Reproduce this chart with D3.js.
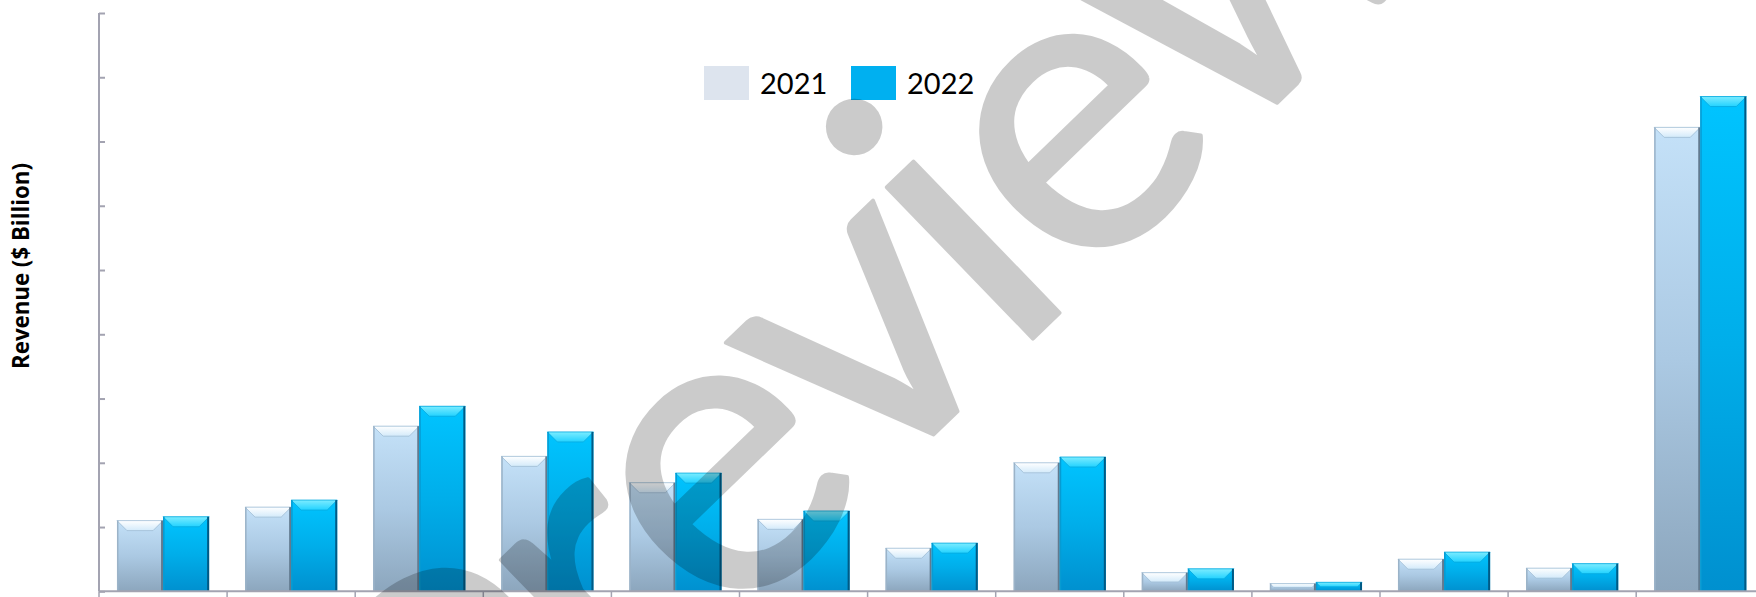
<!DOCTYPE html>
<html>
<head>
<meta charset="utf-8">
<script src="https://cdn.jsdelivr.net/npm/d3@7/dist/d3.min.js"></script>
<style>
  body { margin: 0; background: #fff; }
  svg { display: block; }
</style>
</head>
<body>
<svg id="chart"></svg>
<script>
// chart data (category names are cut off in the source, below the visible area)
const categories = ["C1", "C2", "C3", "C4", "C5", "C6", "C7", "C8", "C9", "C10", "C11", "C12", "C13"];
const years = ["2021", "2022"];
const values2021 = [1.10, 1.31, 2.57, 2.10, 1.69, 1.12, 0.67, 2.00, 0.29, 0.12, 0.50, 0.36, 7.22];
const values2022 = [1.16, 1.42, 2.88, 2.48, 1.84, 1.25, 0.75, 2.09, 0.35, 0.14, 0.61, 0.43, 7.70];
const yTicks = [0, 1, 2, 3, 4, 5, 6, 7, 8, 9];
const yTitle = "Revenue ($ Billion)";
const watermark = "Preview";

var width = 1756;
var height = 597;
var margin = {top: 13, right: 0, bottom: 5, left: 99};
var plotW = 13 * 128.1;
var plotH = height - margin.top - margin.bottom - 0.7;

const svg = d3.select("#chart")
    .attr("width", width)
    .attr("height", height);

const defs = svg.append("defs");

// gradients for the bevelled bars
function vGrad(id, stops) {
    const g = defs.append("linearGradient")
        .attr("id", id)
        .attr("x1", 0).attr("y1", 0).attr("x2", 0).attr("y2", 1);
    stops.forEach(s => g.append("stop").attr("offset", s[0]).attr("stop-color", s[1]));
}
vGrad("body2021", [[0, "#c4e1f8"], [0.5, "#abc9e3"], [1, "#8ca6bd"]]);
vGrad("body2022", [[0, "#00c4ff"], [0.5, "#00aeea"], [1, "#0090cf"]]);
vGrad("top2021", [[0, "#ffffff"], [1, "#d3eafa"]]);
vGrad("top2022", [[0, "#7cecff"], [1, "#22d2ff"]]);

const style = {
    "2021": {body: "url(#body2021)", top: "url(#top2021)", left: "#9bb3c8", right: "#627a8f", rim: "#9fbcd4"},
    "2022": {body: "url(#body2022)", top: "url(#top2022)", left: "#079bd2", right: "#005a85", rim: "#06a9de"}
};

const g = svg.append("g")
    .attr("transform", "translate(" + margin.left + "," + margin.top + ")");

// scales
const x = d3.scaleBand()
    .domain(categories)
    .range([0, plotW])
    .padding(0);

const xInner = d3.scaleBand()
    .domain(years)
    .range([0, x.bandwidth()])
    .paddingInner(0)
    .paddingOuter(0.39);

const y = d3.scaleLinear()
    .domain([0, 9])
    .range([plotH, 0]);

// bars
const rows = categories.map((c, i) => ({cat: c, vals: [
    {year: "2021", v: values2021[i]},
    {year: "2022", v: values2022[i]}
]}));

const groups = g.selectAll(".cat")
    .data(rows)
    .join("g")
    .attr("class", "cat")
    .attr("transform", d => "translate(" + x(d.cat) + ",0)");

groups.selectAll(".bar")
    .data(d => d.vals)
    .join("g")
    .attr("class", "bar")
    .each(function(d) {
        const bx = xInner(d.year);
        const bw = xInner.bandwidth();
        const by = y(d.v);
        const bh = y(0) - y(d.v);
        const b = Math.min(10, bh / 2, bw / 2);
        const s = style[d.year];
        const el = d3.select(this);
        el.append("rect")
            .attr("x", bx).attr("y", by)
            .attr("width", bw).attr("height", bh)
            .attr("fill", s.body);
        // top face of the bevel
        el.append("path")
            .attr("d", `M${bx},${by} L${bx + bw},${by} L${bx + bw - b},${by + b} L${bx + b},${by + b} Z`)
            .attr("fill", s.top)
            .attr("stroke", s.rim).attr("stroke-width", 0.8);
        // edges
        el.append("rect")
            .attr("x", bx).attr("y", by)
            .attr("width", 1.5).attr("height", bh)
            .attr("fill", s.left);
        el.append("rect")
            .attr("x", bx + bw - 2).attr("y", by)
            .attr("width", 2).attr("height", bh)
            .attr("fill", s.right);
    });

// axes
const axisColor = "#a3a3b1";

const yAxis = g.append("g")
    .call(d3.axisLeft(y).tickValues(yTicks).tickSize(-6).tickFormat(""));
yAxis.select(".domain").remove();
yAxis.append("line")
    .attr("x1", 0).attr("x2", 0)
    .attr("y1", 0).attr("y2", plotH)
    .attr("stroke", axisColor).attr("stroke-width", 2);
yAxis.selectAll(".tick line").attr("stroke", axisColor).attr("stroke-width", 2);

const xAxis = g.append("g")
    .attr("transform", "translate(0," + plotH + ")")
    .call(d3.axisBottom(x).tickSize(0).tickFormat(""));
xAxis.select(".domain").remove();
xAxis.append("line")
    .attr("x1", 0).attr("x2", plotW)
    .attr("stroke", axisColor).attr("stroke-width", 2);
xAxis.selectAll(".div")
    .data(categories)
    .join("line")
    .attr("x1", d => x(d)).attr("x2", d => x(d))
    .attr("y1", 0).attr("y2", 7)
    .attr("stroke", axisColor).attr("stroke-width", 1.5);

// y axis title, sized to the span it has in the source
const title = svg.append("text")
    .attr("transform", "translate(29,266) rotate(-90)")
    .attr("text-anchor", "middle")
    .style("font-family", "'Open Sans', Lato, sans-serif")
    .style("font-size", "20px")
    .style("font-weight", 700)
    .attr("fill", "#000")
    .text(yTitle);
const tl = title.node().getComputedTextLength();
title.style("font-size", (20 * 206 / tl) + "px");

// legend
const legend = svg.append("g")
    .attr("transform", "translate(704,66)");
const legendColors = {"2021": "#dde4ee", "2022": "#00b0f0"};
years.forEach((yr, i) => {
    const item = legend.append("g").attr("transform", "translate(" + (i * 147) + ",0)");
    item.append("rect")
        .attr("width", 45).attr("height", 34)
        .attr("fill", legendColors[yr]);
    item.append("text")
        .attr("x", 56).attr("y", 28)
        .style("font-family", "Lato, 'Open Sans', sans-serif")
        .style("font-size", "29px")
        .attr("fill", "#000")
        .text(yr);
});

// watermark on top: letter centres along the baseline, measured from the first "e"
const wmCentres = [-350, -172, 0, 201, 341, 493, 750];
const wmDrop = [28, 0, 0, 0, 0, 0, 0];
const wm = svg.append("text")
    .style("font-family", "Lato, 'Open Sans', sans-serif")
    .style("font-size", "415px")
    .attr("fill", "#000")
    .attr("stroke", "#000")
    .attr("stroke-width", 4)
    .attr("stroke-linejoin", "round")
    .attr("opacity", 0.2);
wm.selectAll("tspan")
    .data(watermark.split(""))
    .join("tspan")
    .text(d => d);
const widths = watermark.split("").map((c, i) => wm.node().getExtentOfChar(i).width);
wm.selectAll("tspan")
    .attr("x", (d, i) => wmCentres[i] - widths[i] / 2)
    .attr("y", (d, i) => wmDrop[i]);
wm.attr("transform", "translate(728,487) rotate(-44) translate(0,105)");
</script>
</body>
</html>
